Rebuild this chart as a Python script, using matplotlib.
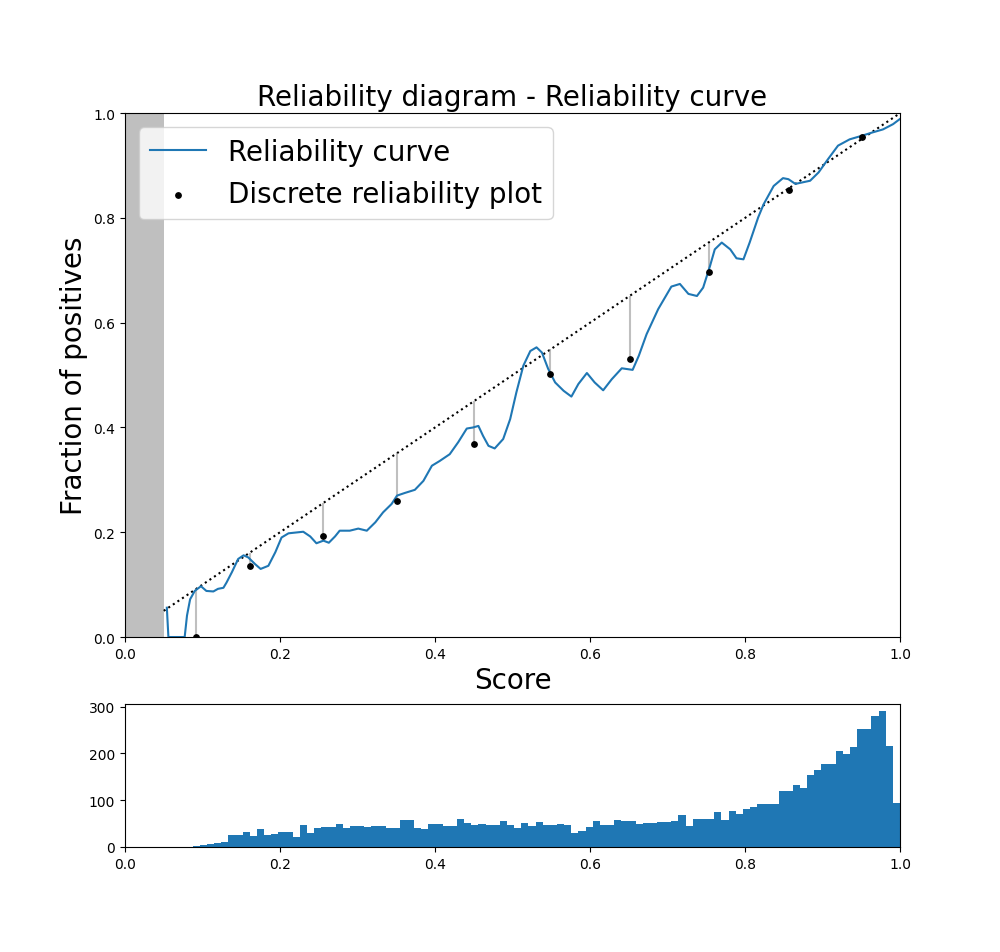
import matplotlib
matplotlib.use("Agg")
import matplotlib.pyplot as plt
import numpy as np

# smoothed reliability curve
curve_x = [0.054, 0.056, 0.077, 0.080, 0.084, 0.090, 0.098, 0.105, 0.114, 0.120,
           0.127, 0.131, 0.138, 0.146, 0.153, 0.159, 0.168, 0.175, 0.185, 0.194,
           0.202, 0.211, 0.230, 0.239, 0.247, 0.256, 0.263, 0.271, 0.277, 0.290,
           0.301, 0.312, 0.323, 0.333, 0.344, 0.351, 0.361, 0.374, 0.385, 0.396,
           0.406, 0.419, 0.430, 0.441, 0.449, 0.456, 0.462, 0.469, 0.477, 0.488,
           0.497, 0.505, 0.514, 0.523, 0.531, 0.538, 0.546, 0.555, 0.566, 0.576,
           0.585, 0.596, 0.606, 0.617, 0.628, 0.641, 0.655, 0.663, 0.673, 0.688,
           0.705, 0.716, 0.727, 0.738, 0.746, 0.755, 0.761, 0.770, 0.781, 0.789,
           0.798, 0.806, 0.817, 0.824, 0.837, 0.849, 0.856, 0.865, 0.884, 0.895,
           0.907, 0.920, 0.935, 0.951, 0.964, 0.978, 0.991, 1.0]
curve_y = [0.056, 0.0, 0.0, 0.041, 0.072, 0.088, 0.097, 0.088, 0.087, 0.092,
           0.094, 0.104, 0.124, 0.149, 0.156, 0.152, 0.139, 0.130, 0.136, 0.162,
           0.190, 0.198, 0.201, 0.192, 0.179, 0.184, 0.180, 0.192, 0.203, 0.203,
           0.207, 0.203, 0.219, 0.238, 0.254, 0.270, 0.275, 0.281, 0.298, 0.327,
           0.336, 0.349, 0.372, 0.398, 0.400, 0.403, 0.384, 0.365, 0.360, 0.378,
           0.416, 0.467, 0.518, 0.546, 0.553, 0.543, 0.512, 0.486, 0.470, 0.459,
           0.483, 0.504, 0.486, 0.471, 0.492, 0.513, 0.510, 0.537, 0.578, 0.626,
           0.669, 0.674, 0.655, 0.651, 0.667, 0.709, 0.740, 0.753, 0.740, 0.723,
           0.721, 0.753, 0.801, 0.826, 0.861, 0.876, 0.874, 0.865, 0.871, 0.887,
           0.912, 0.938, 0.950, 0.957, 0.963, 0.969, 0.979, 0.989]

# discrete reliability plot (10 bins)
pts_x = [0.091, 0.161, 0.255, 0.351, 0.450, 0.549, 0.651, 0.753, 0.857, 0.951]
pts_y = [0.0, 0.135, 0.193, 0.259, 0.368, 0.502, 0.531, 0.696, 0.853, 0.954]

# score histogram, 100 bins between min score and 1
score_min = 0.078
score_max = 1.0
counts = [1, 3, 5, 7, 9, 11, 25, 25, 32, 24,
          39, 25, 27, 32, 32, 21, 46, 30, 41, 43,
          43, 49, 41, 45, 45, 42, 45, 45, 41, 41,
          57, 57, 41, 39, 49, 49, 44, 44, 59, 52,
          48, 49, 46, 46, 56, 46, 41, 51, 45, 54,
          48, 48, 49, 46, 29, 35, 43, 56, 48, 48,
          57, 55, 55, 49, 52, 52, 54, 54, 56, 68,
          45, 59, 59, 59, 75, 57, 77, 70, 82, 86,
          91, 91, 91, 119, 119, 132, 125, 154, 164, 177,
          177, 206, 199, 214, 252, 252, 279, 291, 216, 93]

edges = np.linspace(score_min, score_max, len(counts) + 1)

fig = plt.figure(figsize=(10, 9.53), dpi=100)
ax = fig.add_axes([0.125, 0.3305, 0.775, 0.5497])
ax2 = fig.add_axes([0.125, 0.1102, 0.775, 0.150])

ax.axvspan(0, 0.05, color='grey', alpha=0.5, lw=0)
ax.plot([0.05, 1.0], [0.05, 1.0], 'k:')
ax.vlines(pts_x, pts_y, pts_x, color='grey', alpha=0.5)
ax.plot(curve_x, curve_y, label='Reliability curve')
ax.scatter(pts_x, pts_y, s=15, color='black', zorder=3, label='Discrete reliability plot')
ax.set_xlim(0, 1)
ax.set_ylim(0, 1)
ax.set_title('Reliability diagram - Reliability curve', fontsize=20)
ax.set_xlabel('Score', fontsize=20)
ax.set_ylabel('Fraction of positives', fontsize=20)
ax.legend(loc='upper left', fontsize=20)

ax2.hist(edges[:-1], bins=edges, weights=counts)
ax2.set_xlim(0, 1)

fig.savefig('out.png')
